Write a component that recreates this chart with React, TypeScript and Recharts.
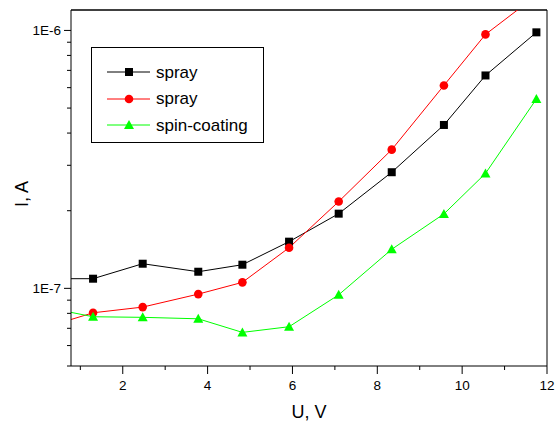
import { Line, LineChart, ReferenceLine, XAxis, YAxis } from "recharts";

// applied voltage, V (first entry lies left of the visible range, it only feeds the clipped lead-in segment)
const voltage = [0.1, 1.3, 2.47, 3.78, 4.82, 5.92, 7.09, 8.34, 9.57, 10.55, 11.75];

// current, A
const sprayBlack = [1.09e-7, 1.09e-7, 1.246e-7, 1.16e-7, 1.235e-7, 1.517e-7, 1.948e-7, 2.82e-7, 4.3e-7, 6.69e-7, 9.83e-7];
const sprayRed = [7.0e-8, 8.04e-8, 8.46e-8, 9.5e-8, 1.055e-7, 1.437e-7, 2.17e-7, 3.45e-7, 6.12e-7, 9.65e-7, 1.365e-6];
const spinCoating = [8.5e-8, 7.76e-8, 7.72e-8, 7.62e-8, 6.75e-8, 7.1e-8, 9.44e-8, 1.417e-7, 1.943e-7, 2.79e-7, 5.42e-7];

const xTicks = [1, 2, 3, 4, 5, 6, 7, 8, 9, 10, 11, 12];
const yTicks = [5e-8, 6e-8, 7e-8, 8e-8, 9e-8, 1e-7, 2e-7, 3e-7, 4e-7, 5e-7, 6e-7, 7e-7, 8e-7, 9e-7, 1e-6];
const yLabels: Record<string, string> = { "1e-7": "1E-7", "0.000001": "1E-6", "1e-6": "1E-6" };

const X_MIN = 0.78;
const X_MAX = 12;
const Y_MIN = 5e-8;
const Y_MAX = 1.2e-6;

const data = voltage.map((u, i) => ({ u, black: sprayBlack[i], red: sprayRed[i], green: spinCoating[i] }));

const FONT = "'Liberation Sans', Arial, sans-serif";

function XTick({ x, y, payload }: any) {
  const major = payload.value % 2 === 0;
  return (
    <g>
      <line x1={x} x2={x} y1={y} y2={y + (major ? 8 : 4)} stroke="#000" strokeWidth={1} />
      {major && (
        <text x={x} y={y + 24} textAnchor="middle" fontSize={13.5} fontFamily={FONT} fill="#000">
          {payload.value}
        </text>
      )}
    </g>
  );
}

function YTick({ x, y, payload }: any) {
  const label = yLabels[String(payload.value)];
  return (
    <g>
      <line x1={x - (label ? 7 : 4)} x2={x} y1={y} y2={y} stroke="#000" strokeWidth={1} />
      {label && (
        <text x={x - 10} y={y + 5} textAnchor="end" fontSize={13.5} fontFamily={FONT} fill="#000">
          {label}
        </text>
      )}
    </g>
  );
}

const hidden = (p: any) => p.payload.u < X_MIN;

function SquareDot(p: any) {
  if (hidden(p)) return <g key={p.index} />;
  return <rect key={p.index} x={p.cx - 4} y={p.cy - 4} width={8} height={8} fill="#000" />;
}

function CircleDot(p: any) {
  if (hidden(p)) return <g key={p.index} />;
  return <circle key={p.index} cx={p.cx} cy={p.cy} r={4.3} fill="#ff0000" />;
}

function TriangleDot(p: any) {
  if (hidden(p)) return <g key={p.index} />;
  const { cx, cy } = p;
  return <polygon key={p.index} points={`${cx},${cy - 5} ${cx + 5},${cy + 4} ${cx - 5},${cy + 4}`} fill="#00ff00" />;
}

const legendRows = [
  { label: "spray", color: "#000000", shape: "square" },
  { label: "spray", color: "#ff0000", shape: "circle" },
  { label: "spin-coating", color: "#00ff00", shape: "triangle" },
];

function LegendBox() {
  return (
    <div
      style={{
        position: "absolute",
        left: 91,
        top: 47,
        width: 173,
        height: 96,
        border: "1px solid #000",
        boxSizing: "border-box",
        fontFamily: FONT,
        fontSize: 17,
        paddingTop: 11,
      }}
    >
      {legendRows.map((r, i) => (
        <div key={i} style={{ display: "flex", alignItems: "center", height: 26.5 }}>
          <svg width={64} height={14} style={{ marginLeft: 15 }}>
            <line x1={0} x2={43} y1={7} y2={7} stroke={r.color} strokeWidth={1} />
            {r.shape === "square" && <rect x={18} y={3} width={8} height={8} fill={r.color} />}
            {r.shape === "circle" && <circle cx={22} cy={7} r={4.3} fill={r.color} />}
            {r.shape === "triangle" && <polygon points="22,2 27,11 17,11" fill={r.color} />}
          </svg>
          <span style={{ marginLeft: -15, lineHeight: 1 }}>{r.label}</span>
        </div>
      ))}
    </div>
  );
}

export default function App() {
  return (
    <div style={{ position: "absolute", left: 0, top: 0, width: 558, height: 423, background: "#fff" }}>
      <LineChart width={558} height={423} data={data} margin={{ top: 10, right: 11, left: 0, bottom: 0 }}>
        <XAxis
          dataKey="u"
          type="number"
          domain={[X_MIN, X_MAX]}
          allowDataOverflow
          ticks={xTicks}
          interval={0}
          height={57}
          tickSize={0}
          tickMargin={0}
          tickLine={false}
          tick={<XTick />}
          stroke="#000"
        />
        <YAxis
          scale="log"
          type="number"
          domain={[Y_MIN, Y_MAX]}
          allowDataOverflow
          ticks={yTicks}
          interval={0}
          width={71}
          tickSize={0}
          tickMargin={0}
          tickLine={false}
          tick={<YTick />}
          stroke="#000"
        />
        <ReferenceLine y={Y_MAX} stroke="#000" strokeWidth={1.5} />
        <ReferenceLine x={X_MAX} stroke="#000" strokeWidth={1} />
        <Line dataKey="black" stroke="#000000" strokeWidth={1} dot={SquareDot} isAnimationActive={false} />
        <Line dataKey="red" stroke="#ff0000" strokeWidth={1} dot={CircleDot} isAnimationActive={false} />
        <Line dataKey="green" stroke="#00ff00" strokeWidth={1} dot={TriangleDot} isAnimationActive={false} />
      </LineChart>
      <LegendBox />
      <div
        style={{ position: "absolute", left: 0, top: 401, width: 618, textAlign: "center", fontFamily: FONT, fontSize: 18, lineHeight: "22px" }}
      >
        U, V
      </div>
      <svg style={{ position: "absolute", left: 0, top: 0 }} width={40} height={423}>
        <text x={28} y={194} transform="rotate(-90 28 194)" textAnchor="middle" fontFamily={FONT} fontSize={18} fill="#000">
          I, A
        </text>
      </svg>
    </div>
  );
}
